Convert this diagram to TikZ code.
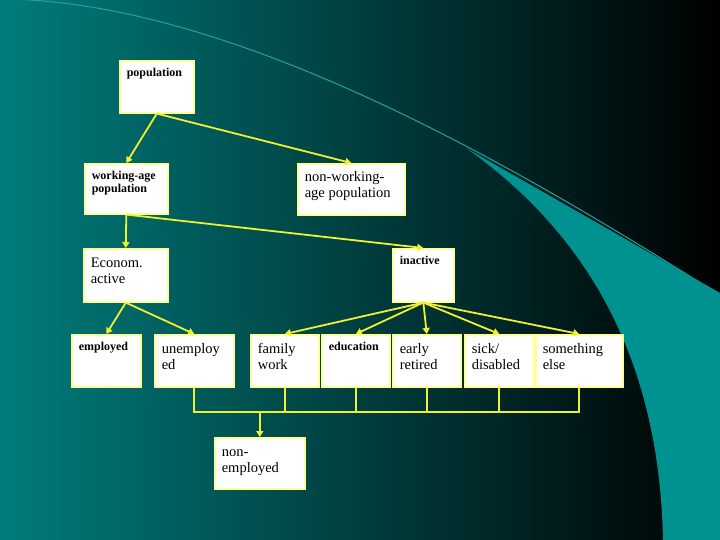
\documentclass[tikz,border=0pt]{standalone}
\usepackage{fontspec}
\setmainfont{Liberation Serif}
\usepackage{tikz}
\usetikzlibrary{arrows.meta}
\usepackage{xcolor}
\definecolor{bgleft}{RGB}{0,124,124}
\definecolor{bgmid}{RGB}{0,98,98}
\definecolor{swoosh}{RGB}{0,145,145}
\definecolor{swooshline}{RGB}{40,160,160}
\definecolor{boxedge}{RGB}{255,255,150}
\definecolor{linkyellow}{RGB}{240,240,50}
\newcommand{\boxtext}[3]{\parbox[t][#2pt][t]{#1pt}{\raggedright\strut #3}}
\tikzset{
  box/.style={draw=boxedge, fill=white, line width=1.6pt, anchor=north west, inner xsep=7pt, inner ysep=7pt},
  small/.style={box, font=\fontsize{12}{13}\selectfont\bfseries},
  large/.style={box, font=\fontsize{14.5}{16}\selectfont},
  link/.style={draw=linkyellow, line width=1.8pt, -{Triangle[width=7pt,length=6pt]}},
  joinline/.style={draw=linkyellow, line width=1.8pt}
}

\begin{document}
\begin{tikzpicture}[x=1pt,y=-1pt]
    \useasboundingbox (0,0) rectangle (720,540);
    \clip (0,0) rectangle (720,540);
    \shade[left color=bgleft, middle color=bgmid, right color=black] (0,0) rectangle (720,540);
    \draw[swooshline, line width=1pt] (0,-1) .. controls (250,0) and (560,195) .. (720,295);
    \fill[swoosh] (466,148) -- (720,293) -- (720,540) -- (663,540) .. controls (660,390) and (610,250) .. cycle;

    \node[small] (pop) at (119,60) {\boxtext{60}{38}{population}};
    \node[small] (wage) at (84,163) {\boxtext{69}{36}{working-age\\population}};
    \node[large] (nwage) at (297,163) {\boxtext{93}{37}{non-working-\\age population}};
    \node[large] (active) at (83,248) {\boxtext{70}{39}{Econom.\\active}};
    \node[small] (inact) at (392,248) {\boxtext{47}{39}{inactive}};
    \node[small] (emp) at (71,334) {\boxtext{55}{38}{employed}};
    \node[large] (unemp) at (154,334) {\boxtext{65}{38}{unemploy\\ed}};
    \node[large] (family) at (250,334) {\boxtext{54}{38}{family\\work}};
    \node[small] (educ) at (321,334) {\boxtext{54}{38}{education}};
    \node[large] (early) at (392,334) {\boxtext{54}{38}{early\\retired}};
    \node[large] (sick) at (464,334) {\boxtext{55}{38}{sick/\\disabled}};
    \node[large] (other) at (535,334) {\boxtext{73}{38}{something\\else}};
    \node[large] (nonemp) at (214,437) {\boxtext{76}{37}{non-\\employed}};

    \draw[link] (pop.south) -- (wage.north);
    \draw[link] (pop.south) -- (nwage.north);
    \draw[link] (wage.south) -- (active.north);
    \draw[link] (wage.south) -- (inact.north);
    \foreach \n in {emp,unemp}
        \draw[link] (active.south) -- (\n.north);
    \foreach \n in {family,educ,early,sick,other}
        \draw[link] (inact.south) -- (\n.north);

    \coordinate (busline) at (0,412);
    \draw[joinline] (unemp.south) -- (unemp.south |- busline) -- (other.south |- busline) -- (other.south);
    \foreach \n in {family,educ,early,sick}
        \draw[joinline] (\n.south) -- (\n.south |- busline);
    \draw[link] (nonemp.north |- busline) -- (nonemp.north);
\end{tikzpicture}
\end{document}
